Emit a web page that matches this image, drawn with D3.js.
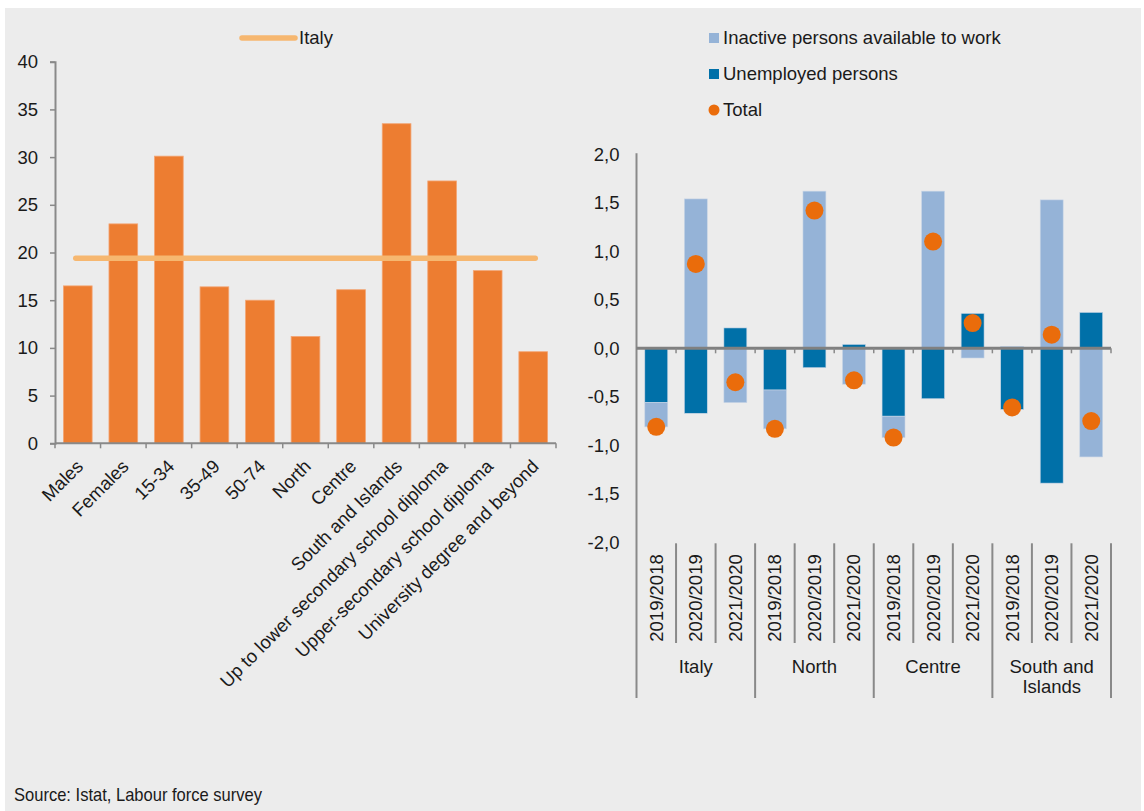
<!DOCTYPE html>
<html>
<head>
<meta charset="utf-8">
<script src="https://cdn.jsdelivr.net/npm/d3@7"></script>
<style>
  html, body { margin: 0; padding: 0; background: #ffffff; }
  svg { display: block; }
  text { font-family: "Liberation Sans", Arial, sans-serif; fill: #1a1a1a; }
</style>
</head>
<body>
<svg id="chart" width="1144" height="811"></svg>
<script>
// Left panel: share by group, with the national figure as a reference line
const groups = ["Males", "Females", "15-34", "35-49", "50-74", "North", "Centre",
  "South and Islands", "Up to lower secondary school diploma",
  "Upper-secondary school diploma", "University degree and beyond"];
const groupValues = [16.5, 23.0, 30.1, 16.4, 15.0, 11.2, 16.1, 33.5, 27.5, 18.1, 9.6];
const italyValue = 19.4;
const leftTicks = [0, 5, 10, 15, 20, 25, 30, 35, 40];

// Right panel: yearly changes by area
const areas = ["Italy", "North", "Centre", "South and Islands"];
const periods = ["2019/2018", "2020/2019", "2021/2020"];
const unemployed = [-0.56, -0.67, 0.21, -0.43, -0.20, 0.04, -0.70, -0.52, 0.36, -0.63, -1.39, 0.37];
const inactive = [-0.25, 1.54, -0.56, -0.40, 1.62, -0.37, -0.22, 1.62, -0.10, 0.02, 1.53, -1.12];
const rightTicks = [-2, -1.5, -1, -0.5, 0, 0.5, 1, 1.5, 2];

const ORANGE = "#ED7D31", ITALY_LINE = "#F6B770", LIGHT_BLUE = "#95B3D7",
      DARK_BLUE = "#0070A8", DOT = "#EA6C0B", AXIS = "#898989";
const FS = 18.5;

const svg = d3.select("#chart");
svg.append("rect").attr("x", 5).attr("y", 8).attr("width", 1136).attr("height", 803)
  .attr("fill", "#ececec");

// ---------- left panel ----------
const L = { x0: 55, x1: 556, yTop: 61.7, yBot: 443.3 };
const xL = d3.scaleBand().domain(groups).range([L.x0, L.x1]).paddingInner(0.37).paddingOuter(0.185);
const yL = d3.scaleLinear().domain([0, 40]).range([L.yBot, L.yTop]);

const gl = svg.append("g");
gl.selectAll("rect.bar").data(groups).join("rect")
  .attr("class", "bar")
  .attr("x", d => xL(d))
  .attr("width", xL.bandwidth())
  .attr("y", (d, i) => yL(groupValues[i]))
  .attr("height", (d, i) => yL(0) - yL(groupValues[i]))
  .attr("fill", ORANGE)
  .attr("stroke", "#f3a574").attr("stroke-width", 0.8);

// y axis
const yAxisL = d3.axisLeft(yL).tickValues(leftTicks).tickSize(5).tickPadding(12).tickFormat(d3.format("d"));
const gyl = gl.append("g").attr("transform", `translate(${L.x0},0)`).call(yAxisL);
gyl.select(".domain").attr("stroke", AXIS).attr("stroke-width", 2);
gyl.selectAll(".tick line").attr("stroke", AXIS).attr("stroke-width", 1.5);
gyl.selectAll(".tick text").attr("font-size", FS).style("font-family", "Liberation Sans, Arial, sans-serif").attr("fill", "#1a1a1a");

// x axis line with ticks at band boundaries
gl.append("line").attr("x1", L.x0).attr("x2", L.x1).attr("y1", L.yBot).attr("y2", L.yBot)
  .attr("stroke", AXIS).attr("stroke-width", 2);
const stepL = (L.x1 - L.x0) / groups.length;
gl.selectAll("line.xt").data(d3.range(groups.length + 1)).join("line")
  .attr("class", "xt")
  .attr("x1", i => L.x0 + i * stepL).attr("x2", i => L.x0 + i * stepL)
  .attr("y1", L.yBot).attr("y2", L.yBot + 5)
  .attr("stroke", AXIS).attr("stroke-width", 1.5);

// rotated category labels
gl.selectAll("text.cat").data(groups).join("text")
  .attr("class", "cat")
  .attr("text-anchor", "end")
  .attr("font-size", FS)
  .attr("transform", d => `translate(${xL(d) + xL.bandwidth() / 2 + 2},463) rotate(-45)`)
  .attr("dy", "0.35em")
  .text(d => d);

// national reference line
const italyY = yL(italyValue);
gl.append("line")
  .attr("x1", xL(groups[0]) + xL.bandwidth() / 2 - 2)
  .attr("x2", xL(groups[groups.length - 1]) + xL.bandwidth() / 2 + 2)
  .attr("y1", italyY).attr("y2", italyY)
  .attr("stroke", ITALY_LINE).attr("stroke-width", 5.5).attr("stroke-linecap", "round");

// legend
gl.append("line").attr("x1", 242).attr("x2", 295).attr("y1", 38).attr("y2", 38)
  .attr("stroke", ITALY_LINE).attr("stroke-width", 5.5).attr("stroke-linecap", "round");
gl.append("text").attr("x", 299).attr("y", 38).attr("dy", "0.35em").attr("font-size", FS).text("Italy");

// ---------- right panel ----------
const R = { x0: 636.5, x1: 1111, yTop: 154.3, yBot: 542.3 };
const cats = [];
areas.forEach(a => periods.forEach(p => cats.push(a + "|" + p)));
const rows = cats.map((c, i) => ({ key: c, unemployed: unemployed[i], inactive: inactive[i] }));

const xR = d3.scaleBand().domain(cats).range([R.x0, R.x1]).paddingInner(0.42).paddingOuter(0.21);
const yR = d3.scaleLinear().domain([-2, 2]).range([R.yBot, R.yTop]);

const stack = d3.stack().keys(["unemployed", "inactive"]).offset(d3.stackOffsetDiverging);
const series = stack(rows);
const colours = { unemployed: DARK_BLUE, inactive: LIGHT_BLUE };

const gr = svg.append("g");
gr.selectAll("g.series").data(series).join("g")
  .attr("class", "series")
  .attr("fill", s => colours[s.key])
  .selectAll("rect").data(s => s).join("rect")
  .attr("x", d => xR(d.data.key))
  .attr("width", xR.bandwidth())
  .attr("y", d => yR(Math.max(d[0], d[1])))
  .attr("height", d => Math.abs(yR(d[0]) - yR(d[1])))
  .attr("stroke", "#c9d6e6").attr("stroke-width", 0.6);

// y axis with tick labels only
const fmt = d => d3.format(".1f")(d).replace(".", ",").replace("−", "-");
const yAxisR = d3.axisLeft(yR).tickValues(rightTicks).tickSize(0).tickPadding(17).tickFormat(fmt);
const gyr = gr.append("g").attr("transform", `translate(${R.x0},0)`).call(yAxisR);
gyr.select(".domain").remove();
gyr.selectAll(".tick text").attr("font-size", FS).style("font-family", "Liberation Sans, Arial, sans-serif").attr("fill", "#1a1a1a");
gr.append("line").attr("x1", R.x0).attr("x2", R.x0).attr("y1", R.yTop - 1).attr("y2", 698)
  .attr("stroke", AXIS).attr("stroke-width", 2);

// zero line with ticks
const stepR = (R.x1 - R.x0) / cats.length;
gr.append("line").attr("x1", R.x0).attr("x2", R.x1).attr("y1", yR(0)).attr("y2", yR(0))
  .attr("stroke", "#808080").attr("stroke-width", 3);
gr.selectAll("line.zt").data(d3.range(1, cats.length + 1)).join("line")
  .attr("class", "zt")
  .attr("x1", i => R.x0 + i * stepR).attr("x2", i => R.x0 + i * stepR)
  .attr("y1", yR(0)).attr("y2", yR(0) + 5)
  .attr("stroke", AXIS).attr("stroke-width", 1.5);

// totals
gr.selectAll("circle.total").data(rows).join("circle")
  .attr("class", "total")
  .attr("cx", d => xR(d.key) + xR.bandwidth() / 2)
  .attr("cy", d => yR(d.unemployed + d.inactive))
  .attr("r", 9)
  .attr("fill", DOT);

// bottom category axis: period labels and area groups
const yb = R.yBot + 1;
gr.selectAll("line.sep").data(d3.range(1, cats.length + 1)).join("line")
  .attr("class", "sep")
  .attr("x1", i => R.x0 + i * stepR).attr("x2", i => R.x0 + i * stepR)
  .attr("y1", yb).attr("y2", i => i % periods.length === 0 ? 698 : 643)
  .attr("stroke", AXIS).attr("stroke-width", 2);

gr.selectAll("text.period").data(cats).join("text")
  .attr("class", "period")
  .attr("text-anchor", "middle")
  .attr("font-size", FS)
  .attr("transform", d => `translate(${xR(d) + xR.bandwidth() / 2},598) rotate(-90)`)
  .attr("dy", "0.35em")
  .text(d => d.split("|")[1]);

const areaLines = { "South and Islands": ["South and", "Islands"] };
areas.forEach((a, i) => {
  const cx = R.x0 + (i * periods.length + periods.length / 2) * stepR;
  const lines = areaLines[a] || [a];
  const t = gr.append("text").attr("text-anchor", "middle").attr("font-size", FS);
  lines.forEach((ln, j) => {
    t.append("tspan").attr("x", cx).attr("y", 667 + j * 20).attr("dy", "0.35em").text(ln);
  });
});

// legend
const legend = gr.append("g");
legend.append("rect").attr("x", 709).attr("y", 33).attr("width", 10).attr("height", 10).attr("fill", LIGHT_BLUE);
legend.append("text").attr("x", 723).attr("y", 38).attr("dy", "0.35em").attr("font-size", FS).text("Inactive persons available to work");
legend.append("rect").attr("x", 709).attr("y", 69).attr("width", 10).attr("height", 10).attr("fill", DARK_BLUE);
legend.append("text").attr("x", 723).attr("y", 74).attr("dy", "0.35em").attr("font-size", FS).text("Unemployed persons");
legend.append("circle").attr("cx", 714).attr("cy", 110).attr("r", 5.5).attr("fill", DOT);
legend.append("text").attr("x", 723).attr("y", 110).attr("dy", "0.35em").attr("font-size", FS).text("Total");

// source note, set in a condensed width
svg.append("text").attr("x", 14).attr("y", 795).attr("dy", "0.35em")
  .attr("font-size", 18.5)
  .attr("textLength", 248).attr("lengthAdjust", "spacingAndGlyphs")
  .text("Source: Istat, Labour force survey");
</script>
</body>
</html>
